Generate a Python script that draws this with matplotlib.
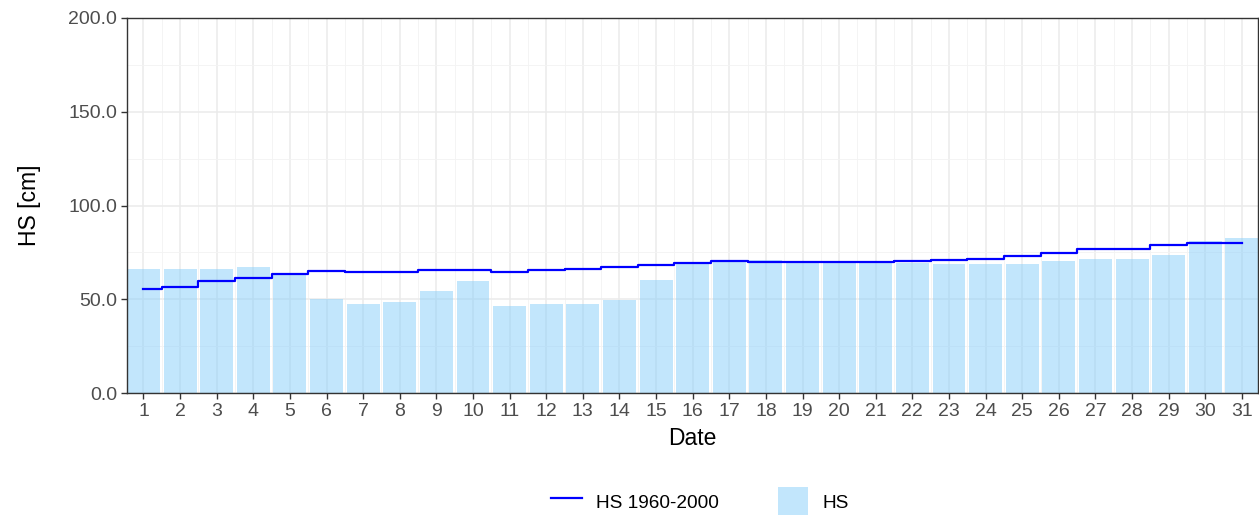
import matplotlib
matplotlib.use("Agg")
import matplotlib.pyplot as plt
from matplotlib.ticker import MultipleLocator, FormatStrFormatter
from matplotlib.lines import Line2D
from matplotlib.patches import Patch

plt.rcParams['font.family'] = ['Liberation Sans', 'DejaVu Sans']

# daily snow depth for one month
days = list(range(1, 32))
hs = [66, 66, 66, 67, 63.5, 50, 47.5, 48.5, 54.5, 59.5, 46.5, 47.5, 47.5, 49.5, 60.5, 69,
      70.5, 71, 69.2, 69.5, 69.5, 69.5, 68.8, 68.8, 68.8, 70.6, 71.6, 71.6, 73.4, 81.2, 82.7]
# mean 1960-2000
hs_ref = [55.6, 56.4, 59.7, 61.3, 63.5, 64.9, 64.4, 64.8, 65.4, 65.8, 64.5, 65.8, 66.1, 67.0, 68.4, 69.5,
          70.6, 70.0, 69.7, 69.9, 69.9, 70.2, 70.7, 71.6, 72.9, 74.7, 77.0, 77.0, 78.9, 80.2, 80.2]

tick_col = '#4D4D4D'
grid_col = '#EBEBEB'

fig = plt.figure(figsize=(12.59, 5.15), dpi=100)
ax = fig.add_axes([127 / 1259, 1 - 393 / 515, 1 - 127 / 1259 - 0.0005, 375 / 515])

ax.bar(days, hs, width=0.9, color='#87CEFA', alpha=0.5, zorder=2)
ax.plot(days, hs_ref, drawstyle='steps-mid', color='#0000FF', lw=1.6, zorder=3)

ax.set_xlim(0.55, 31.45)
ax.set_ylim(0, 200)
ax.set_xticks(days)
ax.xaxis.set_minor_locator(MultipleLocator(0.5))
ax.yaxis.set_major_locator(MultipleLocator(50))
ax.yaxis.set_minor_locator(MultipleLocator(25))
ax.yaxis.set_major_formatter(FormatStrFormatter('%.1f'))
ax.grid(which='major', color=grid_col, lw=1.1, zorder=0)
ax.grid(which='minor', color='#F3F3F3', lw=0.6, zorder=0)
ax.set_axisbelow(True)

ax.tick_params(axis='both', which='major', length=4, width=1, color='#333333',
               labelcolor=tick_col, labelsize=14, pad=3)
ax.tick_params(which='minor', length=0)
for s in ax.spines.values():
    s.set_color('#333333')
    s.set_linewidth(1.0)

ax.set_xlabel('Date', fontsize=16.5, labelpad=5)
ax.set_ylabel('HS [cm]', fontsize=16.5, labelpad=20)

handles = [Line2D([0], [0], color='#0000FF', lw=1.6),
           Patch(facecolor='#87CEFA', alpha=0.5, edgecolor='none')]
fig.legend(handles, ['HS 1960-2000', 'HS'], loc='center', bbox_to_anchor=(0.556, 0.025),
           ncol=2, frameon=False, fontsize=13.7, handlelength=1.6, handleheight=2.0,
           columnspacing=3.1, handletextpad=0.75)

fig.savefig('out.png', dpi=100)
